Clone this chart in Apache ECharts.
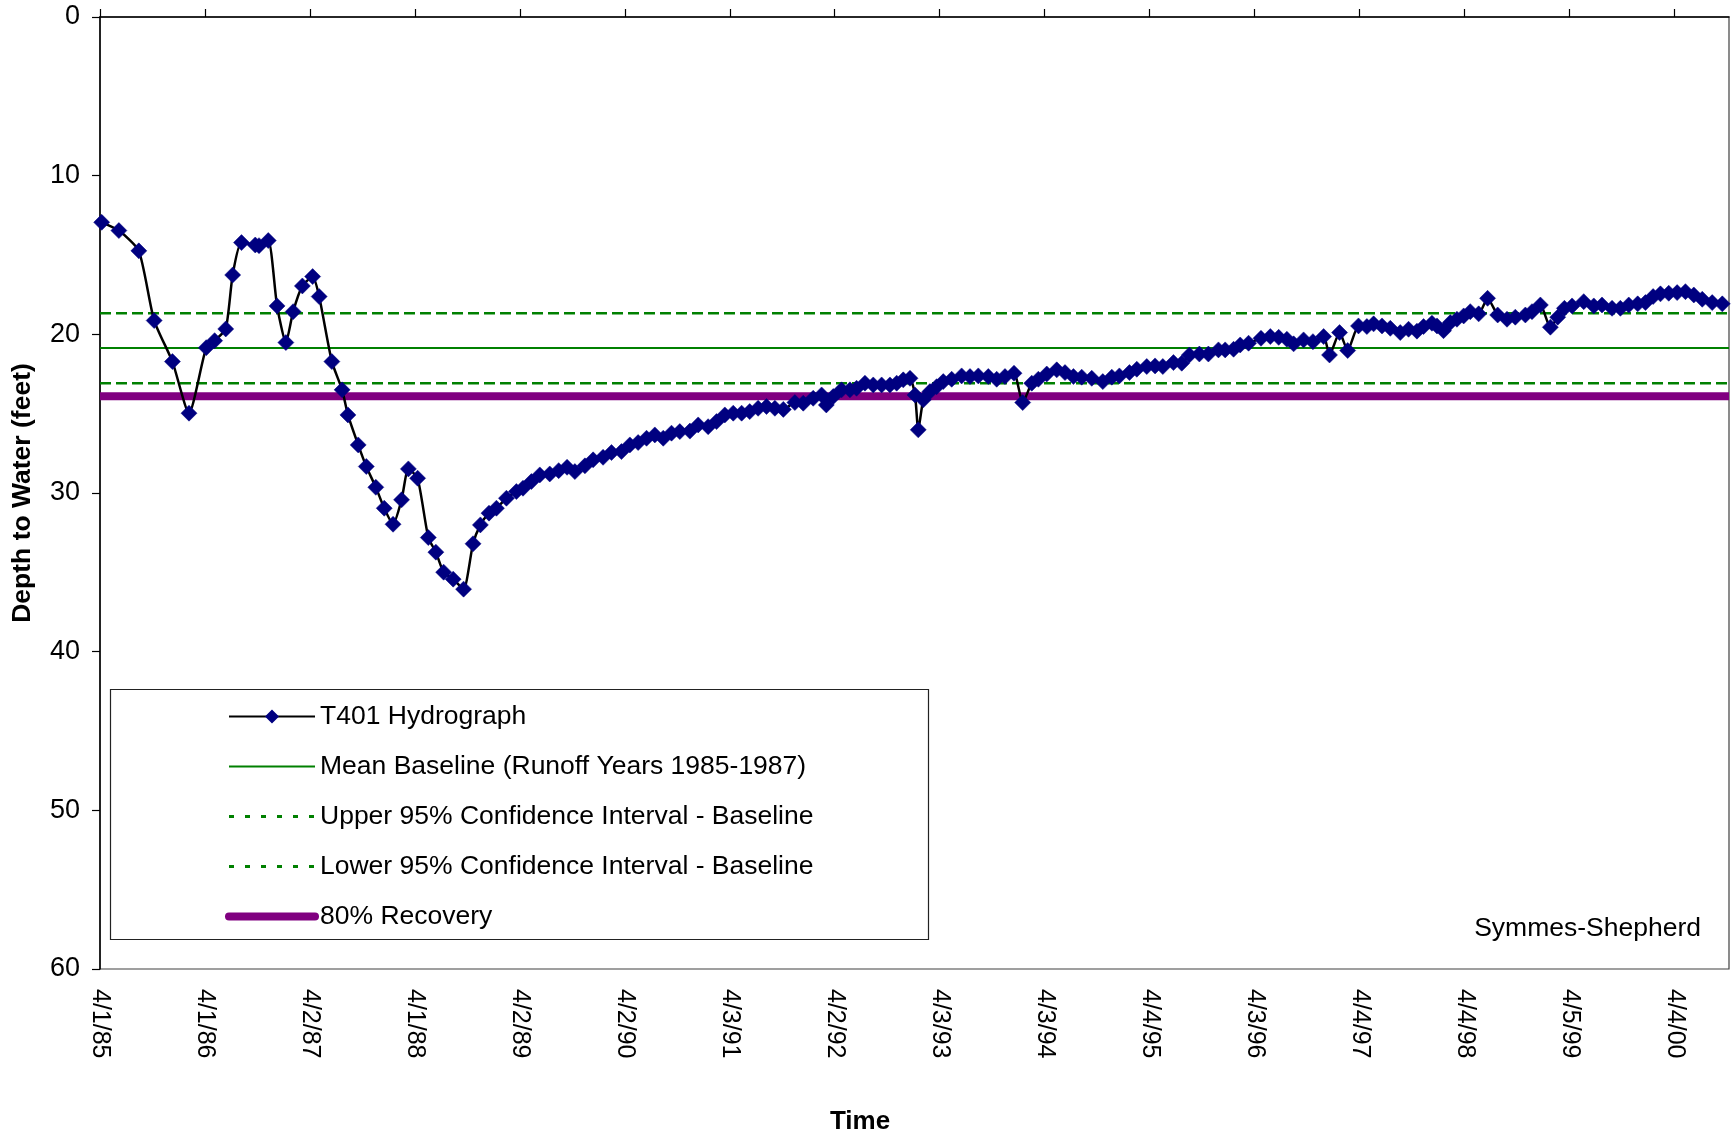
<!DOCTYPE html>
<html><head><meta charset="utf-8">
<script src="https://cdn.jsdelivr.net/npm/echarts@6/dist/echarts.min.js"></script>
<style>html,body{margin:0;padding:0;background:#fff}#c{width:1732px;height:1138px}</style>
</head><body><div id="c"></div><script>
// Time in years since 4/1/85 (category tick positions are whole years)
const yearsSinceStart = [
 0.016,0.18,0.37,0.516,0.69,0.848,1.012,1.092,1.198,1.264,1.348,1.479,1.515,1.603,1.687,1.771,1.84,1.928,
 2.026,2.088,2.209,2.307,2.362,2.46,2.537,2.628,2.708,2.792,2.873,2.938,3.026,3.128,3.2,3.274,3.365,3.464,
 3.554,3.624,3.706,3.777,3.872,3.967,4.03,4.11,4.19,4.285,4.37,4.45,4.524,4.62,4.698,4.793,4.873,4.968,
 5.048,5.127,5.207,5.286,5.366,5.445,5.524,5.62,5.699,5.794,5.874,5.953,6.033,6.113,6.19,6.27,6.35,6.43,
 6.51,6.62,6.70,6.795,6.875,6.92,6.986,7.065,7.145,7.208,7.288,7.367,7.447,7.526,7.59,7.653,7.717,7.765,
 7.796,7.844,7.907,7.971,8.034,8.114,8.209,8.289,8.368,8.463,8.543,8.622,8.708,8.791,8.877,8.94,9.02,9.115,
 9.194,9.274,9.353,9.449,9.554,9.64,9.712,9.808,9.878,9.973,10.052,10.126,10.227,10.306,10.379,10.474,10.56,
 10.656,10.72,10.8,10.863,10.943,11.061,11.15,11.23,11.308,11.372,11.467,11.556,11.658,11.714,11.81,11.887,
 11.99,12.07,12.134,12.214,12.293,12.388,12.467,12.547,12.61,12.69,12.738,12.8,12.865,12.928,12.992,13.055,
 13.135,13.22,13.316,13.405,13.484,13.58,13.643,13.723,13.818,13.888,13.952,14.025,14.136,14.232,14.31,
 14.406,14.485,14.565,14.65,14.724,14.797,14.867,14.946,15.026,15.105,15.185,15.265,15.36,15.456
];
// T401 depth to water (feet)
const depthToWater = [
 12.94,13.46,14.74,19.13,21.72,24.97,20.84,20.40,19.66,16.26,14.22,14.37,14.41,14.09,18.21,20.52,18.57,16.95,
 16.36,17.62,21.72,23.5,25.08,26.97,28.33,29.64,30.96,31.97,30.43,28.48,29.07,32.81,33.73,34.99,35.43,36.06,
 33.2,32.01,31.27,30.96,30.33,29.91,29.7,29.28,28.86,28.80,28.59,28.38,28.65,28.29,27.91,27.75,27.45,27.39,
 26.97,26.82,26.55,26.34,26.55,26.23,26.13,26.10,25.71,25.82,25.50,25.08,24.97,24.97,24.87,24.66,24.55,24.66,
 24.73,24.30,24.34,24.03,23.82,24.45,23.92,23.50,23.50,23.40,23.08,23.19,23.19,23.19,23.08,22.87,22.77,23.82,
 26.02,24.13,23.61,23.30,22.98,22.83,22.62,22.66,22.62,22.66,22.83,22.66,22.45,24.30,23.08,22.83,22.50,22.24,
 22.41,22.66,22.70,22.77,22.98,22.70,22.62,22.41,22.20,22.03,21.99,22.03,21.78,21.82,21.30,21.24,21.24,
 20.98,20.98,20.94,20.67,20.56,20.25,20.14,20.19,20.31,20.60,20.35,20.46,20.14,21.30,19.89,21.02,
 19.47,19.51,19.34,19.47,19.62,19.89,19.68,19.80,19.51,19.30,19.47,19.77,19.26,19.05,18.84,18.57,
 18.71,17.73,18.78,19.05,18.92,18.78,18.57,18.15,19.55,18.92,18.36,18.21,17.94,18.21,18.15,
 18.36,18.36,18.15,18.08,18.00,17.62,17.45,17.41,17.37,17.31,17.52,17.79,18.00,18.08
];
const tickLabels = ['4/1/85','4/1/86','4/2/87','4/1/88','4/2/89','4/2/90','4/3/91','4/2/92',
 '4/3/93','4/3/94','4/4/95','4/3/96','4/4/97','4/4/98','4/5/99','4/4/00'];
const meanBaseline = [20.86];
const upperCI = [18.67];
const lowerCI = [23.08];
const recovery80 = [23.9];
const seriesNames = ['T401 Hydrograph','Mean Baseline (Runoff Years 1985-1987)',
 'Upper 95% Confidence Interval - Baseline','Lower 95% Confidence Interval - Baseline','80% Recovery'];

const X_MAX = 15.52;
const FONT = "'Liberation Sans', Arial, sans-serif";
const tickVals = tickLabels.map((_, i) => i);
const flat = v => [[0, v], [X_MAX, v]];
const hideSym = {opacity: 0};

const chart = echarts.init(document.getElementById('c'), null, {renderer: 'canvas'});
chart.setOption({
  animation: false,
  backgroundColor: '#fff',
  textStyle: {fontFamily: FONT, color: '#000'},
  grid: {left: 100, top: 17, width: 1629, height: 952, show: true, borderColor: '#404040', borderWidth: 1.2,
         backgroundColor: 'transparent', containLabel: false, outerBoundsMode: 'none'},
  xAxis: [
    {type: 'value', position: 'top', min: 0, max: X_MAX, interval: 1,
     axisLine: {show: true, onZero: false, lineStyle: {color: '#000', width: 1.5}},
     axisTick: {show: true, length: 8, lineStyle: {color: '#000', width: 1.2}, customValues: tickVals},
     axisLabel: {show: false}, splitLine: {show: false}},
    {type: 'value', position: 'bottom', min: 0, max: X_MAX, interval: 1,
     axisLine: {show: false}, axisTick: {show: false}, splitLine: {show: false},
     axisLabel: {show: true, rotate: -90, margin: 20, fontSize: 25, fontFamily: FONT, color: '#000',
       customValues: tickVals, formatter: v => tickLabels[Math.round(v)] || ''}}
  ],
  yAxis: {type: 'value', inverse: true, min: 0, max: 60, interval: 10,
    name: 'Depth to Water (feet)', nameLocation: 'middle', nameGap: 64, nameRotate: 90,
    nameTextStyle: {fontSize: 26.5, fontWeight: 'bold', fontFamily: FONT, color: '#000'},
    axisLine: {show: true, onZero: false, lineStyle: {color: '#000', width: 1.5}},
    axisTick: {show: true, length: 8, lineStyle: {color: '#000', width: 1.2}},
    axisLabel: {fontSize: 27, margin: 20, color: '#000', fontFamily: FONT},
    splitLine: {show: false}},
  legend: {
    orient: 'vertical', left: 225, top: 703, padding: 0, itemWidth: 86, itemHeight: 14, itemGap: 23,
    textStyle: {fontSize: 26.5, lineHeight: 25, color: '#000', fontFamily: FONT},
    selectedMode: false,
    data: [
      {name: seriesNames[0]},
      {name: seriesNames[1], itemStyle: hideSym},
      {name: seriesNames[2], itemStyle: hideSym, lineStyle: {type: [5, 11], width: 3}},
      {name: seriesNames[3], itemStyle: hideSym, lineStyle: {type: [5, 11], width: 3}},
      {name: seriesNames[4], itemStyle: hideSym, lineStyle: {width: 8, cap: 'round'}}
    ]
  },
  graphic: [
    {type: 'rect', z: -1, shape: {x: 110.5, y: 689.5, width: 818, height: 250}, style: {fill: '#fff', stroke: '#222', lineWidth: 1.2}},
    {type: 'text', x: 860, y: 1122, style: {text: 'Time', font: 'bold 26px ' + FONT, fill: '#000', textAlign: 'center', textVerticalAlign: 'middle'}},
    {type: 'text', x: 1701, y: 929, style: {text: 'Symmes-Shepherd', font: '26.5px ' + FONT, fill: '#000', textAlign: 'right', textVerticalAlign: 'middle'}}
  ],
  series: [
    {name: seriesNames[0], type: 'line', xAxisIndex: 0, z: 5,
     data: yearsSinceStart.map((t, i) => [t, depthToWater[i]]),
     smooth: 0.2, symbol: 'diamond', symbolSize: 16, showAllSymbol: true,
     lineStyle: {color: '#000', width: 2.5}, itemStyle: {color: '#000080', borderColor: '#000080', borderWidth: 0.5}},
    {name: seriesNames[1], type: 'line', xAxisIndex: 0, z: 3, data: flat(meanBaseline[0]), symbol: 'none',
     lineStyle: {color: '#008000', width: 2.2}, itemStyle: {color: '#008000'}},
    {name: seriesNames[2], type: 'line', xAxisIndex: 0, z: 3, data: flat(upperCI[0]), symbol: 'none',
     lineStyle: {color: '#008000', width: 2.6, type: [11, 5]}, itemStyle: {color: '#008000'}},
    {name: seriesNames[3], type: 'line', xAxisIndex: 0, z: 3, data: flat(lowerCI[0]), symbol: 'none',
     lineStyle: {color: '#008000', width: 2.6, type: [11, 5]}, itemStyle: {color: '#008000'}},
    {name: seriesNames[4], type: 'line', xAxisIndex: 0, z: 2, data: flat(recovery80[0]), symbol: 'none',
     lineStyle: {color: '#800080', width: 8}, itemStyle: {color: '#800080'}}
  ]
});
</script></body></html>
